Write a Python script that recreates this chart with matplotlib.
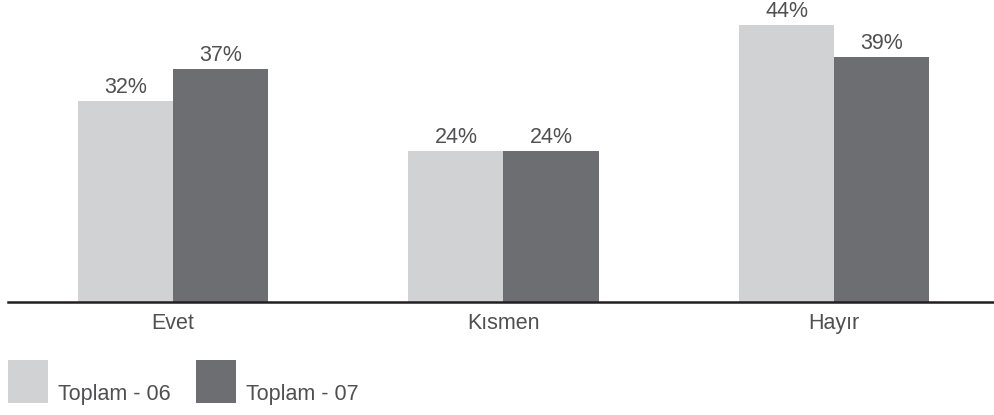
import matplotlib.pyplot as plt
from matplotlib.patches import Rectangle
import numpy as np

plt.rcParams['font.family'] = ['Liberation Sans', 'DejaVu Sans']

categories = ['Evet', 'Kısmen', 'Hayır']
toplam_06 = [32, 24, 44]
toplam_07 = [37, 24, 39]
series_names = ['Toplam - 06', 'Toplam - 07']

light = '#d1d2d4'
dark = '#6d6e71'
text_col = '#505052'

W, H = 994, 415
fig = plt.figure(figsize=(W / 100, H / 100), dpi=100)
ax = fig.add_axes([8 / W, (H - 302) / H, 986 / W, 302 / H])

x = np.arange(len(categories))
w = 0.2875
b1 = ax.bar(x - w / 2, toplam_06, w, color=light)
b2 = ax.bar(x + w / 2, toplam_07, w, color=dark)

for bars in (b1, b2):
    for r in bars:
        ax.text(r.get_x() + r.get_width() / 2, r.get_height() + 1.25,
                f'{r.get_height():.0f}%', ha='center', va='baseline',
                fontsize=15.5, color=text_col, clip_on=False)

ax.set_xlim(-0.499, 2.484)
ax.set_ylim(0, 48)
ax.set_xticks(x)
ax.set_xticklabels(categories, fontsize=15.5, color=text_col)
ax.tick_params(axis='x', length=0, pad=8)
ax.set_yticks([])
for s in ['top', 'right', 'left']:
    ax.spines[s].set_visible(False)
ax.spines['bottom'].set_color('#231f20')
ax.spines['bottom'].set_linewidth(1.8)

# legend
for i, (name, col) in enumerate(zip(series_names, [light, dark])):
    x0 = 8 + i * 188
    fig.add_artist(Rectangle((x0 / W, (H - 403) / H), 40 / W, 43 / H,
                             transform=fig.transFigure, color=col, lw=0))
    fig.text((x0 + 50) / W, (H - 400) / H, name, fontsize=15.5,
             color=text_col, ha='left', va='baseline')

fig.savefig('out.png', dpi=100)
